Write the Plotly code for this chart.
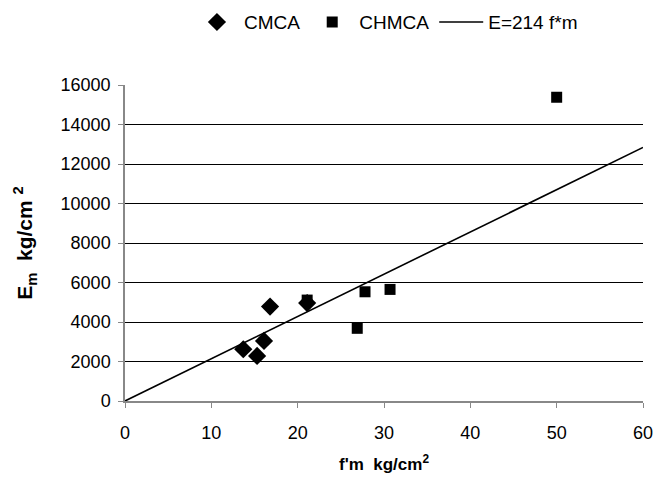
import plotly.graph_objects as go

# Masonry compressive strength f'm (kg/cm2) vs elastic modulus Em (kg/cm2)
cmca_fm = [13.7, 15.3, 16.1, 16.8, 21.1]
cmca_em = [2620, 2280, 3040, 4780, 4960]

chmca_fm = [21.1, 26.9, 27.8, 30.7, 50.0]
chmca_em = [5110, 3680, 5530, 5650, 15380]

fit_coef = 214
fit_fm = [0, 60]
fit_em = [fit_coef * v for v in fit_fm]

font = "Liberation Sans, Arial, sans-serif"

fig = go.Figure()
fig.add_trace(go.Scatter(
    x=cmca_fm, y=cmca_em, mode="markers", name="CMCA",
    marker=dict(symbol="diamond", size=14, color="black"),
))
fig.add_trace(go.Scatter(
    x=chmca_fm, y=chmca_em, mode="markers", name="CHMCA",
    marker=dict(symbol="square", size=11, color="black"),
))
fig.add_trace(go.Scatter(
    x=fit_fm, y=fit_em, mode="lines", name="E=214 f*m",
    line=dict(color="black", width=1.6),
))

fig.update_layout(
    width=655, height=481,
    margin=dict(l=125, r=12, t=85, b=80),
    paper_bgcolor="white", plot_bgcolor="white",
    font=dict(family=font, size=17, color="black"),
    showlegend=True,
    legend=dict(
        orientation="h", xref="container", x=0.59, xanchor="center",
        yref="container", y=0.954, yanchor="middle",
        font=dict(size=19), itemwidth=44, tracegroupgap=0,
    ),
    xaxis=dict(
        range=[0, 60], dtick=10, showgrid=False, zeroline=False,
        showline=True, linecolor="#888888", linewidth=1.5,
        ticks="outside", ticklen=5, tickcolor="#888888",
        tickfont=dict(size=18), ticklabelstandoff=10, automargin=False,
        title=dict(text="<b>f'm  kg/cm<sup>2</sup></b>", font=dict(size=17), standoff=16),
    ),
    yaxis=dict(
        range=[0, 16000], dtick=2000, tickformat="d",
        showgrid=True, gridcolor="black", gridwidth=1.2,
        zeroline=False, showline=True, linecolor="#888888", linewidth=1.5,
        ticks="outside", ticklen=5, tickcolor="#888888",
        tickfont=dict(size=18), ticklabelstandoff=4, automargin=False,
        title=dict(text="<b>E<sub>m</sub>&nbsp; kg/cm <sup>2</sup></b>", font=dict(size=21), standoff=22),
    ),
)

fig.write_html("out.html")
